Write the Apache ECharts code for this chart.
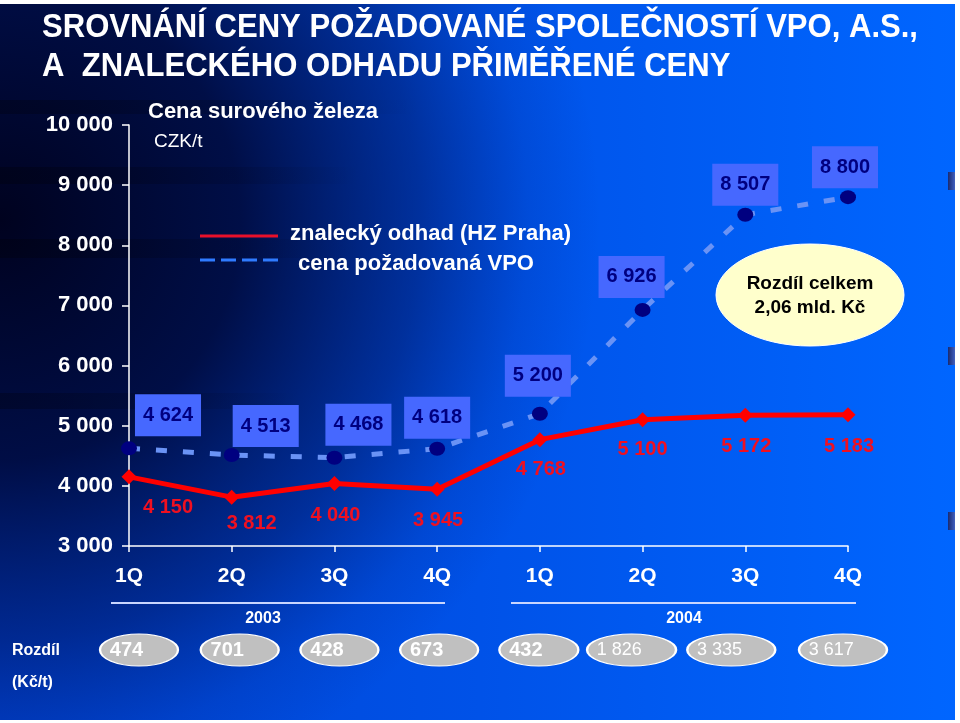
<!DOCTYPE html>
<html>
<head>
<meta charset="utf-8">
<script src="https://cdn.jsdelivr.net/npm/echarts@6/dist/echarts.min.js"></script>
<style>
  html, body { margin: 0; padding: 0; background: #fff; }
  #chart { width: 960px; height: 723px; }
</style>
</head>
<body>
<div id="chart"></div>
<script>
// data
const quarters = ['1Q', '2Q', '3Q', '4Q', '1Q', '2Q', '3Q', '4Q'];
const years = ['2003', '2004'];
const expertEstimate = [4150, 3812, 4040, 3945, 4768, 5100, 5172, 5183];
const vpoPrice = [4624, 4513, 4468, 4618, 5200, 6926, 8507, 8800];
const difference = [474, 701, 428, 673, 432, 1826, 3335, 3617];
const yMin = 3000;
const yMax = 10000;
const yStep = 1000;

// label placement (px, relative to the point)
const vpoLabelOffset = [[39, -33], [34, -29], [24, -33], [0, -31], [-2, -38], [-11, -33], [0, -30], [-3, -30]];
const expertLabelOffset = [[39, 31], [20, 26], [1, 32], [1, 31], [1, 30], [0, 30], [1, 31], [1, 32]];
const diffShift = [10, 8, 5, 2, -1, -11, -14, -5];
const diffWidth = [78, 78, 78, 78, 79, 89, 88, 88];

const FONT = "'Liberation Sans', Arial, sans-serif";
const fmt = v => String(v).replace(/\B(?=(\d{3})+(?!\d))/g, ' ');

const TITLE1 = 'SROVNÁNÍ CENY POŽADOVANÉ SPOLEČNOSTÍ VPO, A.S.,';
const TITLE2 = 'A  ZNALECKÉHO ODHADU PŘIMĚŘENÉ CENY';
const TITLE_FONT = 'bold 33px ' + FONT;

// the slide title is set in a narrow face; squeeze a normal one to the same width
const ctx = document.createElement('canvas').getContext('2d');
ctx.font = TITLE_FONT;
const titleScale = 876 / ctx.measureText(TITLE1).width;

const chart = echarts.init(document.getElementById('chart'));

function streak(y, h, w, a) {
  return {
    type: 'rect', z: -9, silent: true,
    shape: { x: 0, y: y, width: w, height: h },
    style: {
      fill: new echarts.graphic.LinearGradient(0, 0, 1, 0, [
        { offset: 0, color: 'rgba(0,0,10,' + a + ')' },
        { offset: 1, color: 'rgba(0,0,10,0)' }
      ])
    }
  };
}

function edgeMark(y) {
  return {
    type: 'rect', z: -8, silent: true,
    shape: { x: 948, y: y, width: 7, height: 18 },
    style: {
      fill: new echarts.graphic.LinearGradient(0, 0, 1, 0, [
        { offset: 0, color: '#1a2a70' },
        { offset: 1, color: '#4060c0' }
      ])
    }
  };
}

const whiteText = (x, y, text, font, align) => ({
  type: 'text', x: x, y: y, silent: true,
  style: { text: text, fill: '#fff', font: font, align: align || 'left', verticalAlign: 'middle' }
});

chart.setOption({
  animation: false,
  textStyle: { fontFamily: FONT },
  graphic: [
    // slide background: bright blue, darkened towards the upper left
    {
      type: 'rect', z: -10, silent: true,
      shape: { x: 0, y: 0, width: 960, height: 723 },
      style: {
        fill: new echarts.graphic.LinearGradient(0, 0, 1, 0, [
          { offset: 0, color: '#0042d0' },
          { offset: 0.5, color: '#0052e8' },
          { offset: 1, color: '#0066ff' }
        ])
      }
    },
    {
      type: 'rect', z: -10, silent: true,
      shape: { x: 0, y: 0, width: 960, height: 723 },
      style: {
        fill: new echarts.graphic.RadialGradient(0, 220, 600, [
          { offset: 0, color: 'rgba(0,0,25,0.97)' },
          { offset: 0.4, color: 'rgba(0,4,45,0.85)' },
          { offset: 0.7, color: 'rgba(0,10,70,0.45)' },
          { offset: 0.88, color: 'rgba(0,15,90,0.12)' },
          { offset: 1, color: 'rgba(0,20,100,0)' }
        ], true)
      }
    },
    streak(100, 14, 420, 0.3),
    streak(167, 17, 360, 0.35),
    streak(239, 19, 360, 0.35),
    streak(393, 16, 300, 0.3),
    edgeMark(172), edgeMark(347), edgeMark(512),
    // white frame of the slide
    { type: 'rect', z: 5, silent: true, shape: { x: 0, y: 0, width: 960, height: 4 }, style: { fill: '#fff' } },
    { type: 'rect', z: 5, silent: true, shape: { x: 955, y: 0, width: 5, height: 723 }, style: { fill: '#fff' } },
    { type: 'rect', z: 5, silent: true, shape: { x: 0, y: 720, width: 960, height: 3 }, style: { fill: '#fff' } },

    // title
    Object.assign(whiteText(42, 28, TITLE1, TITLE_FONT), { scaleX: titleScale }),
    Object.assign(whiteText(42, 67, TITLE2, TITLE_FONT), { scaleX: titleScale }),

    whiteText(148, 112, 'Cena surového železa', 'bold 22px ' + FONT),
    whiteText(154, 142, 'CZK/t', '19px ' + FONT),

    // legend
    { type: 'line', silent: true, shape: { x1: 200, y1: 236, x2: 278, y2: 236 }, style: { stroke: '#e8102a', lineWidth: 3 } },
    { type: 'line', silent: true, shape: { x1: 200, y1: 260, x2: 278, y2: 260 }, style: { stroke: '#2f7bff', lineWidth: 3, lineDash: [15, 6] } },
    whiteText(290, 234, 'znalecký odhad (HZ Praha)', 'bold 22px ' + FONT),
    whiteText(298, 264, 'cena požadovaná VPO', 'bold 22px ' + FONT),

    // total difference bubble
    {
      type: 'ellipse', z: 4, silent: true,
      shape: { cx: 810, cy: 295, rx: 94, ry: 51 },
      style: { fill: '#ffffcc', stroke: '#ffffff', lineWidth: 1 }
    },
    {
      type: 'text', z: 4, x: 810, y: 296, silent: true,
      style: { text: 'Rozdíl celkem\n2,06 mld. Kč', fill: '#000', font: 'bold 19px ' + FONT,
        align: 'center', verticalAlign: 'middle', lineHeight: 24 }
    },

    // year brackets
    { type: 'line', silent: true, shape: { x1: 111, y1: 603, x2: 445, y2: 603 }, style: { stroke: '#c9d6ff', lineWidth: 2 } },
    { type: 'line', silent: true, shape: { x1: 511, y1: 603, x2: 856, y2: 603 }, style: { stroke: '#c9d6ff', lineWidth: 2 } },
    whiteText(263, 619, years[0], 'bold 16px ' + FONT, 'center'),
    whiteText(684, 619, years[1], 'bold 16px ' + FONT, 'center'),
    whiteText(12, 651, 'Rozdíl', 'bold 16px ' + FONT),
    whiteText(12, 683, '(Kč/t)', 'bold 16px ' + FONT)
  ],
  grid: [
    { left: 129, right: 112, top: 125, bottom: 177 },
    { left: 129, right: 112, top: 634, height: 32 }
  ],
  xAxis: [
    {
      type: 'category', data: quarters, boundaryGap: false,
      axisLine: { lineStyle: { color: '#ffffff', width: 1.5 } },
      axisTick: { length: 6, lineStyle: { color: '#ffffff', width: 1.5 } },
      axisLabel: { color: '#fff', fontWeight: 'bold', fontSize: 21, margin: 20, interval: 0 },
      splitLine: { show: false }
    },
    { type: 'category', data: quarters, boundaryGap: false, gridIndex: 1, show: false }
  ],
  yAxis: [
    {
      type: 'value', min: yMin, max: yMax, interval: yStep,
      axisLine: { show: true, lineStyle: { color: '#ffffff', width: 1.5 } },
      axisTick: { show: true, length: 7, lineStyle: { color: '#ffffff', width: 1.5 } },
      axisLabel: { color: '#fff', fontWeight: 'bold', fontSize: 22, margin: 16, formatter: fmt },
      splitLine: { show: false }
    },
    { type: 'value', min: 0, max: 1, gridIndex: 1, show: false }
  ],
  series: [
    {
      name: 'cena požadovaná VPO',
      type: 'line', z: 2,
      data: vpoPrice.map((v, i) => ({ value: v, label: { offset: vpoLabelOffset[i] } })),
      symbol: 'circle', symbolSize: [16, 14],
      itemStyle: { color: '#000080' },
      lineStyle: { color: '#6a93f5', width: 5, type: [11, 16] },
      label: {
        show: true, position: 'inside', formatter: p => fmt(p.value),
        color: '#000080', fontWeight: 'bold', fontSize: 20,
        backgroundColor: '#4668ff', padding: [11, 8]
      }
    },
    {
      name: 'znalecký odhad (HZ Praha)',
      type: 'line', z: 3,
      data: expertEstimate.map((v, i) => ({ value: v, label: { offset: expertLabelOffset[i] } })),
      symbol: 'diamond', symbolSize: 15,
      itemStyle: { color: '#ff0000' },
      lineStyle: { color: '#ff0000', width: 5 },
      label: {
        show: true, position: 'inside', formatter: p => fmt(p.value),
        color: '#f01020', fontWeight: 'bold', fontSize: 20
      }
    },
    {
      name: 'Rozdíl',
      type: 'scatter', xAxisIndex: 1, yAxisIndex: 1, z: 3,
      symbol: 'circle',
      data: difference.map((d, i) => ({
        value: [i, 0.5, d],
        symbolSize: [diffWidth[i], 32],
        symbolOffset: [diffShift[i], 0],
        label: { fontWeight: d >= 1000 ? 'normal' : 'bold', fontSize: d >= 1000 ? 18 : 20 }
      })),
      itemStyle: { color: '#c0c0c0', borderColor: '#ffffff', borderWidth: 1.5, opacity: 1 },
      label: {
        show: true, position: [11, '50%'], align: 'left', verticalAlign: 'middle',
        color: '#fff', formatter: p => fmt(p.value[2])
      }
    }
  ]
});
</script>
</body>
</html>
